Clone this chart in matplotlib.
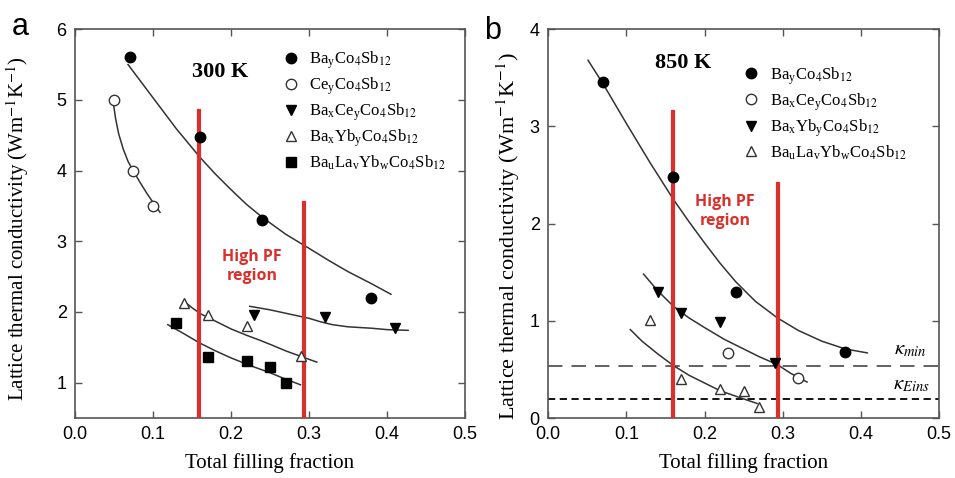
import matplotlib
matplotlib.use("Agg")
import matplotlib.pyplot as plt

plt.rcParams["mathtext.fontset"] = "stix"
plt.rcParams["font.family"] = ["Liberation Sans", "DejaVu Sans"]

# ─── Données panneau a (300 K) ─────────────────────────────
a_bay_x = [0.07, 0.16, 0.24, 0.38]
a_bay_y = [5.6, 4.47, 3.3, 2.2]
a_cey_x = [0.05, 0.075, 0.10]
a_cey_y = [5.0, 4.0, 3.5]
a_bacey_x = [0.23, 0.32, 0.41]
a_bacey_y = [1.95, 1.93, 1.77]
a_bayb_x = [0.14, 0.17, 0.22, 0.29]
a_bayb_y = [2.13, 1.95, 1.80, 1.38]
a_balayb_x = [0.13, 0.17, 0.22, 0.25, 0.27]
a_balayb_y = [1.85, 1.37, 1.31, 1.22, 1.00]

# courbes de tendance
a_fit_bay_x = [0.068, 0.085, 0.10, 0.115, 0.13, 0.145, 0.16, 0.18, 0.20,
               0.22, 0.24, 0.27, 0.30, 0.325, 0.35, 0.38, 0.405]
a_fit_bay_y = [5.50, 5.25, 5.03, 4.81, 4.59, 4.39, 4.19, 3.95, 3.73,
               3.52, 3.34, 3.10, 2.90, 2.73, 2.57, 2.40, 2.25]
a_fit_cey_x = [0.049, 0.052, 0.056, 0.062, 0.068, 0.075, 0.083, 0.092, 0.10, 0.109]
a_fit_cey_y = [4.97, 4.74, 4.52, 4.30, 4.13, 3.99, 3.84, 3.68, 3.55, 3.41]
a_fit_bacey_x = [0.224, 0.25, 0.275, 0.30, 0.315, 0.33, 0.35, 0.38, 0.40, 0.427]
a_fit_bacey_y = [2.08, 2.03, 1.97, 1.91, 1.86, 1.82, 1.79, 1.77, 1.75, 1.74]
a_fit_bayb_x = [0.141, 0.15, 0.16, 0.18, 0.20, 0.22, 0.237, 0.255, 0.27, 0.29, 0.31]
a_fit_bayb_y = [2.14, 2.06, 1.98, 1.87, 1.76, 1.67, 1.60, 1.52, 1.45, 1.37, 1.29]
a_fit_balayb_x = [0.119, 0.14, 0.16, 0.18, 0.20, 0.225, 0.25, 0.27, 0.289]
a_fit_balayb_y = [1.82, 1.69, 1.56, 1.45, 1.35, 1.24, 1.14, 1.05, 0.97]

# ─── Données panneau b (850 K) ─────────────────────────────
b_bay_x = [0.07, 0.16, 0.24, 0.38]
b_bay_y = [3.46, 2.48, 1.30, 0.68]
b_bacey_x = [0.23, 0.32]
b_bacey_y = [0.67, 0.41]
b_bayb_x = [0.14, 0.17, 0.22, 0.29]
b_bayb_y = [1.30, 1.08, 0.99, 0.57]
b_balayb_x = [0.13, 0.17, 0.22, 0.25, 0.27]
b_balayb_y = [1.01, 0.40, 0.30, 0.28, 0.11]

b_fit_bay_x = [0.051, 0.07, 0.10, 0.13, 0.16, 0.18, 0.20, 0.22, 0.24,
               0.265, 0.293, 0.32, 0.35, 0.38, 0.408]
b_fit_bay_y = [3.68, 3.44, 3.03, 2.63, 2.25, 2.02, 1.80, 1.59, 1.40,
               1.20, 1.03, 0.90, 0.79, 0.71, 0.67]
b_fit_bayb_x = [0.122, 0.14, 0.16, 0.18, 0.20, 0.225, 0.25, 0.27, 0.293, 0.31, 0.331]
b_fit_bayb_y = [1.48, 1.31, 1.15, 1.03, 0.93, 0.81, 0.71, 0.63, 0.55, 0.46, 0.37]
b_fit_balayb_x = [0.105, 0.12, 0.14, 0.16, 0.18, 0.20, 0.22, 0.245, 0.267]
b_fit_balayb_y = [0.91, 0.79, 0.66, 0.54, 0.44, 0.36, 0.28, 0.21, 0.15]

kappa_min = 0.54
kappa_eins = 0.20

lbl_bay = r"Ba$_\mathregular{y}$Co$_4$Sb$_{12}$"
lbl_cey = r"Ce$_\mathregular{y}$Co$_4$Sb$_{12}$"
lbl_bacey = r"Ba$_\mathregular{x}$Ce$_\mathregular{y}$Co$_4$Sb$_{12}$"
lbl_bayb = r"Ba$_\mathregular{x}$Yb$_\mathregular{y}$Co$_4$Sb$_{12}$"
lbl_balayb = r"Ba$_\mathregular{u}$La$_\mathregular{v}$Yb$_\mathregular{w}$Co$_4$Sb$_{12}$"

RED = "#d9302c"
LINE = "#333333"
SPINE = "#555555"
serif = ["Liberation Serif", "DejaVu Serif"]

fig = plt.figure(figsize=(9.55, 4.78), dpi=100)
ax1 = fig.add_axes([0.0785, 0.1255, 0.4085, 0.8135])
ax2 = fig.add_axes([0.574, 0.1255, 0.4095, 0.8135])


def _style(ax, ylab_size):
    for s in ax.spines.values():
        s.set_color(SPINE)
        s.set_linewidth(1.2)
    ax.tick_params(direction="in", length=5, width=1, color=SPINE,
                   top=True, right=True, labelsize=13, pad=6)
    ax.set_xlim(0, 0.5)
    ax.set_xticks([0.0, 0.1, 0.2, 0.3, 0.4, 0.5])
    ax.set_xticklabels(["0.0", "0.1", "0.2", "0.3", "0.4", "0.5"])
    ax.set_xlabel("Total filling fraction", family=serif, fontsize=15)
    ax.xaxis.set_label_coords(0.5, -0.09)
    ax.set_ylabel(r"Lattice thermal conductivity (Wm$^{-1}$K$^{-1}$)",
                  family=serif, fontsize=ylab_size)


# ─── Panneau a ─────────────────────────────────────────────
ax = ax1
_style(ax, 15)
ax.yaxis.set_label_coords(-0.113, 0.488)
ax.set_ylim(0.5, 6)
ax.set_yticks([1, 2, 3, 4, 5, 6])
for fx, fy in [(a_fit_bay_x, a_fit_bay_y), (a_fit_cey_x, a_fit_cey_y),
               (a_fit_bacey_x, a_fit_bacey_y), (a_fit_bayb_x, a_fit_bayb_y),
               (a_fit_balayb_x, a_fit_balayb_y)]:
    ax.plot(fx, fy, color=LINE, lw=1.1, zorder=2)
ax.plot([0.159, 0.159], [0.5, 4.84], color=RED, lw=3, zorder=3)
ax.plot([0.293, 0.293], [0.5, 3.54], color=RED, lw=3, zorder=3)
ax.plot(a_bay_x, a_bay_y, "o", color="black", ms=7.5, ls="none", label=lbl_bay, zorder=4)
ax.plot(a_cey_x, a_cey_y, "o", mfc="white", mec=LINE, ms=7.5, ls="none", label=lbl_cey, zorder=4)
ax.plot(a_bacey_x, a_bacey_y, "v", color="black", ms=7.5, ls="none", label=lbl_bacey, zorder=4)
ax.plot(a_bayb_x, a_bayb_y, "^", mfc="white", mec=LINE, ms=7.5, ls="none", label=lbl_bayb, zorder=4)
ax.plot(a_balayb_x, a_balayb_y, "s", color="black", ms=6.5, ls="none", label=lbl_balayb, zorder=4)
ax.text(0.186, 5.39, "300 K", family=serif, weight="bold", fontsize=16,
        ha="center", va="center")
ax.text(0.227, 2.64, "High PF\nregion", color=RED, weight="bold", fontsize=11.5,
        ha="center", va="center", linespacing=1.25, family=["Open Sans", "DejaVu Sans"])
ax.legend(loc="upper left", bbox_to_anchor=(0.52, 0.965), frameon=False,
          prop={"family": serif, "size": 12}, handlelength=0.8, handletextpad=0.7,
          labelspacing=0.27, borderaxespad=0)

# ─── Panneau b ─────────────────────────────────────────────
ax = ax2
_style(ax, 16)
ax.yaxis.set_label_coords(-0.066, 0.468)
ax.set_ylim(0, 4)
ax.set_yticks([0, 1, 2, 3, 4])
ax.axhline(kappa_min, color="#555555", lw=1.3, ls=(0, (8, 5)), zorder=1)
ax.axhline(kappa_eins, color="black", lw=1.3, ls=(0, (4, 2.5)), zorder=1)
for fx, fy in [(b_fit_bay_x, b_fit_bay_y), (b_fit_bayb_x, b_fit_bayb_y),
               (b_fit_balayb_x, b_fit_balayb_y)]:
    ax.plot(fx, fy, color=LINE, lw=1.1, zorder=2)
ax.plot([0.160, 0.160], [0, 3.15], color=RED, lw=3, zorder=3)
ax.plot([0.294, 0.294], [0, 2.41], color=RED, lw=3, zorder=3)
ax.plot(b_bay_x, b_bay_y, "o", color="black", ms=7.5, ls="none", label=lbl_bay, zorder=4)
ax.plot(b_bacey_x, b_bacey_y, "o", mfc="white", mec=LINE, ms=7.5, ls="none", label=lbl_bacey, zorder=4)
ax.plot(b_bayb_x, b_bayb_y, "v", color="black", ms=7.5, ls="none", label=lbl_bayb, zorder=4)
ax.plot(b_balayb_x, b_balayb_y, "^", mfc="white", mec=LINE, ms=7.5, ls="none", label=lbl_balayb, zorder=4)
ax.text(0.173, 3.65, "850 K", family=serif, weight="bold", fontsize=16,
        ha="center", va="center")
ax.text(0.226, 2.12, "High PF\nregion", color=RED, weight="bold", fontsize=11.5,
        ha="center", va="center", linespacing=1.25, family=["Open Sans", "DejaVu Sans"])
ax.text(0.463, 0.70, r"$\kappa_{min}$", fontsize=15, ha="center", va="center")
ax.text(0.465, 0.34, r"$\kappa_{Eins}$", fontsize=15, ha="center", va="center")
ax.legend(loc="upper left", bbox_to_anchor=(0.485, 0.925), frameon=False,
          prop={"family": serif, "size": 12}, handlelength=0.8, handletextpad=0.7,
          labelspacing=0.27, borderaxespad=0)

fig.text(0.012, 0.943, "a", fontsize=22, ha="left", va="center")
fig.text(0.507, 0.935, "b", fontsize=22, ha="left", va="center")

fig.savefig("out.png", dpi=100)
